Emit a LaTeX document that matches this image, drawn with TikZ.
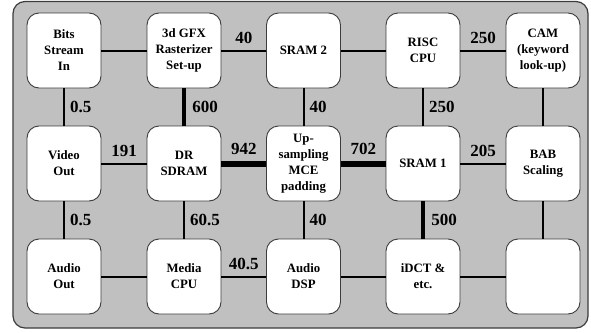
\documentclass[tikz,border=0pt]{standalone}
\usepackage{fontspec}
\setmainfont{Liberation Serif}
\definecolor{panelgray}{RGB}{192,192,192}
\definecolor{edgegray}{RGB}{60,60,60}
\begin{document}
\begin{tikzpicture}[x=1pt,y=-1pt,
  unit/.style={draw=edgegray, line width=0.9pt, fill=white, rounded corners=12pt,
    minimum width=74pt, minimum height=75pt, inner sep=0pt, align=center,
    font=\bfseries\fontsize{12.8}{16}\selectfont},
  lbl/.style={inner sep=0pt, font=\bfseries\fontsize{17}{17}\selectfont},
  bus/.style={line width=2pt, black},
  widebus/.style={line width=4.5pt, black},
  fatbus/.style={line width=6pt, black}]
\useasboundingbox (0,0) rectangle (591,332);
% panel behind the units
\draw[edgegray, line width=1.2pt, fill=panelgray, rounded corners=12pt] (13,1.5) rectangle (588,328);

% processing units, three rows of five
\node[unit] (bits)  at (64,50.5)    {Bits\\Stream\\In};
\node[unit] (gfx)   at (184,50.5)   {3d GFX\\Rasterizer\\Set-up};
\node[unit] (sramb) at (303.5,50.5) {SRAM 2};
\node[unit] (risc)  at (423,50.5)   {RISC\\CPU};
\node[unit] (cam)   at (543,50.5)   {CAM\\(keyword\\look-up)};

\node[unit] (video) at (64,163.5)    {Video\\Out};
\node[unit] (dram)  at (184,163.5)   {DR\\SDRAM};
\node[unit] (ups)   at (303.5,163.5) {Up-\\sampling\\MCE\\padding};
\node[unit] (srama) at (423,163.5)   {SRAM 1};
\node[unit] (bab)   at (543,163.5)   {BAB\\Scaling};

\node[unit] (audio) at (64,276.5)    {Audio\\Out};
\node[unit] (media) at (184,276.5)   {Media\\CPU};
\node[unit] (dsp)   at (303.5,276.5) {Audio\\DSP};
\node[unit] (idct)  at (423,276.5)   {iDCT \&\\etc.};
\node[unit] (blank) at (543,276.5)   {};

% horizontal links
\draw[bus] (bits) -- (gfx);
\draw[bus] (gfx) -- node[midway, above=6pt, lbl] {40} (sramb);
\draw[bus] (sramb) -- (risc);
\draw[bus] (risc) -- node[midway, above=6pt, lbl] {250} (cam);

\draw[bus] (video) -- node[midway, above=6pt, lbl] {191} (dram);
\draw[fatbus] (dram) -- node[midway, above=6pt, lbl] {942} (ups);
\draw[fatbus] (ups) -- node[midway, above=6pt, lbl] {702} (srama);
\draw[bus] (srama) -- node[midway, above=6pt, lbl] {205} (bab);

\draw[bus] (audio) -- (media);
\draw[bus] (media) -- node[midway, above=6pt, lbl] {40.5} (dsp);
\draw[bus] (dsp) -- (idct);
\draw[bus] (idct) -- (blank);

% vertical links
\draw[bus] (bits) -- node[midway, right=5pt, lbl] {0.5} (video);
\draw[widebus] (gfx) -- node[midway, right=6pt, lbl] {600} (dram);
\draw[bus] (sramb) -- node[midway, right=5pt, lbl] {40} (ups);
\draw[bus] (risc) -- node[midway, right=5pt, lbl] {250} (srama);
\draw[bus] (cam) -- (bab);

\draw[bus] (video) -- node[midway, right=5pt, lbl] {0.5} (audio);
\draw[bus] (dram) -- node[midway, right=5pt, lbl] {60.5} (media);
\draw[bus] (ups) -- node[midway, right=5pt, lbl] {40} (dsp);
\draw[widebus] (srama) -- node[midway, right=6pt, lbl] {500} (idct);
\draw[bus] (bab) -- (blank);
\end{tikzpicture}
\end{document}
